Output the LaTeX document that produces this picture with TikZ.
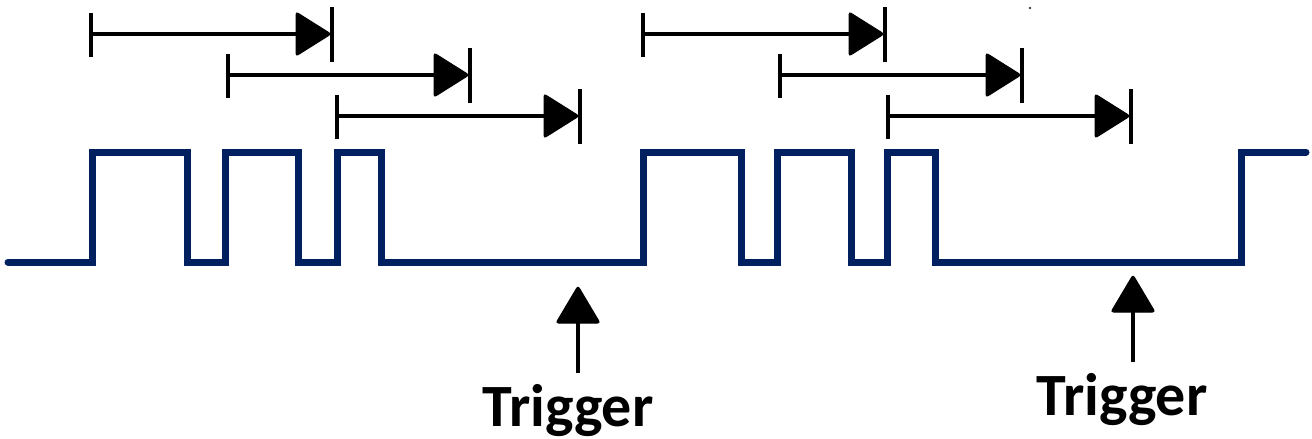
\documentclass[tikz,border=0pt]{standalone}
\usepackage{fontspec}
\setmainfont{Carlito}
\definecolor{wave}{HTML}{002060}
\tikzset{
  x=1pt,y=-1pt,
  wavestyle/.style={draw=wave,line width=7pt,line cap=round,line join=miter},
  spanline/.style={draw=black,line width=3.5pt},
  headfill/.style={fill=black,draw=black,line width=1pt,rounded corners=2.5pt},
  barline/.style={draw=black,line width=3.5pt},
  triglabel/.style={font=\bfseries\fontsize{60}{64}\selectfont,anchor=base,inner sep=0pt}
}
\begin{document}
\begin{tikzpicture}
\useasboundingbox (0,0) rectangle (1312,439);
% waveform
\draw[wavestyle] (8,262) -- (92,262) -- (92,152) -- (187,152) -- (187,262) -- (225,262) -- (225,152) -- (298,152) -- (298,262) -- (337,262) -- (337,152) -- (381,152) -- (381,262) -- (643,262) -- (643,152) -- (741,152) -- (741,262) -- (777,262) -- (777,152) -- (851,152) -- (851,262) -- (887,262) -- (887,152) -- (935,152) -- (935,262) -- (1241,262) -- (1241,152) -- (1306,152);
% span arrows
\foreach \i/\xa/\xb/\yy in {1/91/332/34, 2/228/470/75, 3/337/580/116, 4/643/885/34, 5/780/1022/75, 6/888/1131/116}{
  \coordinate (s\i) at (\xa,\yy);
  \coordinate (e\i) at (\xb,\yy);
  \draw[spanline] (s\i) -- ([xshift=-20pt]e\i);
  \filldraw[headfill] ([xshift=-1pt]e\i) -- ([xshift=-36pt,yshift=-22pt]e\i) -- ([xshift=-36pt,yshift=22pt]e\i) -- cycle;
  \draw[barline] ([yshift=-23pt]s\i) -- ([yshift=21pt]s\i);
  \draw[barline] ([yshift=-28pt]e\i) -- ([yshift=27pt]e\i);
}
% trigger arrows
\coordinate (t1a) at (578,373);
\coordinate (t1b) at (578,285);
\coordinate (t2a) at (1133,362);
\coordinate (t2b) at (1133,274);
\foreach \a/\b in {t1a/t1b, t2a/t2b}{
  \draw[spanline] (\a) -- ([yshift=-30pt]\b);
  \filldraw[headfill] ([yshift=-1pt]\b) -- ([xshift=-22pt,yshift=-38pt]\b) -- ([xshift=22pt,yshift=-38pt]\b) -- cycle;
}
\node[triglabel] (l1) at (568,426) {Trigger};
\node[triglabel] (l2) at (1122,415) {Trigger};
\fill (1030,8) circle (1.2pt);
\end{tikzpicture}
\end{document}
